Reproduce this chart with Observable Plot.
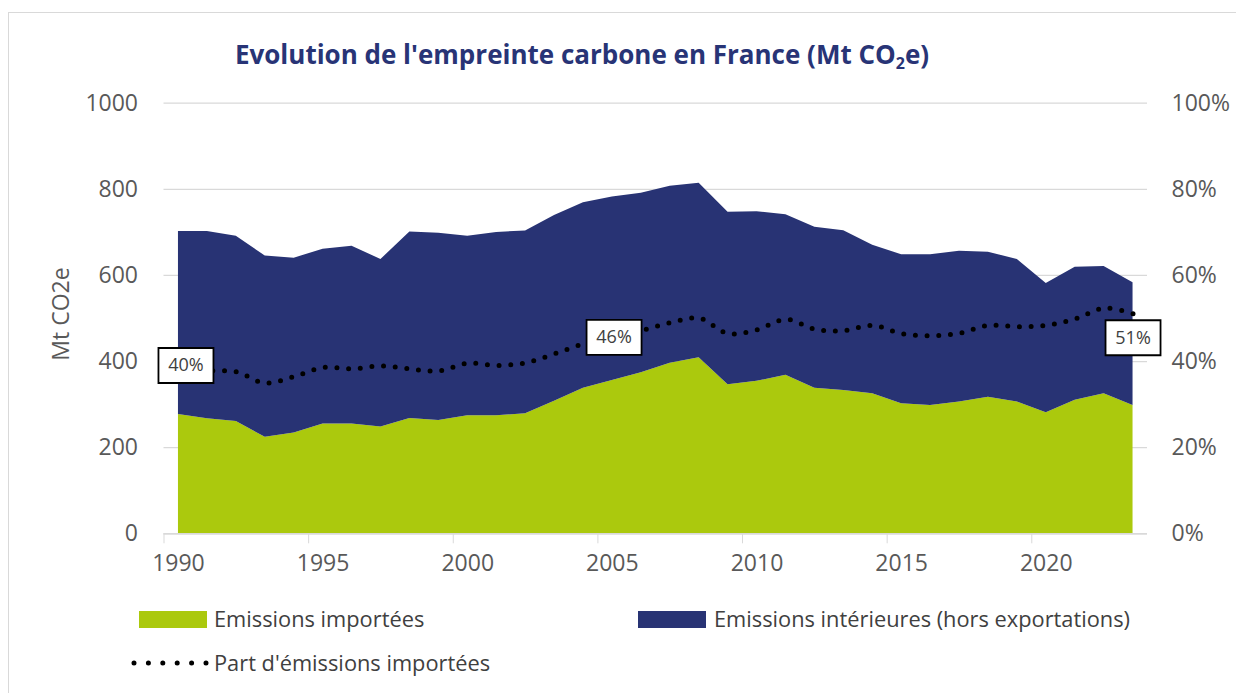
<!DOCTYPE html>
<html>
<head>
<meta charset="utf-8">
<script src="https://cdn.jsdelivr.net/npm/d3@7"></script>
<script src="https://cdn.jsdelivr.net/npm/@observablehq/plot@0.6"></script>
<style>
  html, body { margin: 0; padding: 0; background: #fff; }
  body { width: 1236px; height: 693px; position: relative; overflow: hidden; font-family: "Open Sans", sans-serif; }
  #frame { position: absolute; left: 8px; top: 12px; width: 1300px; height: 800px; border-left: 1.5px solid #d9d9d9; border-top: 1.5px solid #d9d9d9; }
  #title { position: absolute; left: 0; width: 1164px; top: 38px; text-align: center; font-weight: 700; font-size: 26px; line-height: 32px; color: #283476; white-space: nowrap; }
  #title sub { font-size: 16px; vertical-align: -5px; line-height: 0; }
  #chart { position: absolute; left: 0; top: 85px; }
  .leg { position: absolute; font-size: 21.8px; line-height: 26px; color: #404040; white-space: nowrap; }
  .sw { position: absolute; height: 17px; width: 68px; }
</style>
</head>
<body>
<div id="frame"></div>
<div id="title">Evolution de l'empreinte carbone en France (Mt CO<sub>2</sub>e)</div>
<div id="chart"></div>
<div id="legend"></div>
<script>
// ---- Data ----
const years = [1990, 1991, 1992, 1993, 1994, 1995, 1996, 1997, 1998, 1999,
               2000, 2001, 2002, 2003, 2004, 2005, 2006, 2007, 2008, 2009,
               2010, 2011, 2012, 2013, 2014, 2015, 2016, 2017, 2018, 2019,
               2020, 2021, 2022, 2023];
// Emissions importées (Mt CO2e)
const imported = [277, 267, 261, 224, 234, 255, 255, 248, 268, 263,
                  274, 274, 279, 308, 338, 356, 374, 396, 409, 346,
                  354, 368, 338, 333, 325, 302, 298, 306, 317, 306,
                  281, 310, 325, 298];
// Emissions intérieures hors exportations (Mt CO2e)
const domestic = [425, 435, 430, 421, 406, 406, 413, 389, 433, 435,
                  417, 426, 424, 431, 431, 426, 417, 411, 405, 401,
                  394, 373, 374, 371, 345, 346, 350, 350, 337, 331,
                  300, 309, 296, 285];
// Part d'émissions importées (%)
const share = [39.5, 38.0, 37.6, 35.0, 36.5, 38.6, 38.3, 39.0, 38.3, 37.8,
               39.6, 39.1, 39.7, 41.8, 44.1, 45.6, 47.2, 49.0, 50.1, 46.5,
               47.4, 49.8, 47.5, 47.2, 48.4, 46.5, 46.0, 46.6, 48.4, 48.1,
               48.4, 49.9, 52.4, 51.1];
const seriesNames = ["Emissions importées", "Emissions intérieures (hors exportations)"];
const lineName = "Part d'émissions importées";
const labelYears = [1990, 2005, 2023];
const xTickLabels = [1990, 1995, 2000, 2005, 2010, 2015, 2020];
const xTickMarks = [1989.5, 1994.5, 1999.5, 2004.5, 2009.5, 2014.5, 2019.5];
const yTicks = [0, 200, 400, 600, 800, 1000];
const yTicksPct = [0, 20, 40, 60, 80, 100];

// ---- Styles ----
const GREEN = "#abc90d";
const NAVY = "#283374";
const labelOffsets = {1990: [7.5, 1.8], 2005: [1.7, 0], 2023: [0, 24]};

// ---- Tables built from the arrays ----
const areaRows = [];
years.forEach((year, i) => {
  areaRows.push({year, series: seriesNames[0], value: imported[i]});
  areaRows.push({year, series: seriesNames[1], value: domestic[i]});
});
// the share (0-100 %) is drawn against the right axis, which maps 100 % onto the top of the 0-1000 scale
const pctToLeft = 1000 / 100;
const shareRows = years.map((year, i) => ({year, pct: share[i], y: share[i] * pctToLeft}));
const labelRows = shareRows.filter(d => labelYears.includes(d.year));

const boxSymbol = {draw(context) { context.rect(-27.5, -17.5, 55, 35); }};

const labelMarks = labelRows.flatMap(r => {
  const [dx, dy] = labelOffsets[r.year];
  return [
    Plot.dot([r], {x: "year", y: "y", dx, dy, symbol: boxSymbol, fill: "white", stroke: "black", strokeWidth: 1.8}),
    Plot.text([r], {x: "year", y: "y", dx, dy, text: d => Math.round(d.pct) + "%", fontSize: 18, fill: "#404040"})
  ];
});

const plot = Plot.plot({
  width: 1236,
  height: 490,
  marginTop: 17.7,
  marginBottom: 41.7,
  marginLeft: 163.5,
  marginRight: 89,
  style: {fontFamily: "Open Sans", fontSize: "23px", color: "#595959", background: "transparent", overflow: "visible"},
  x: {domain: [1989.5, 2023.5]},
  y: {domain: [0, 1000]},
  color: {domain: seriesNames, range: [GREEN, NAVY]},
  marks: [
    Plot.gridY(yTicks, {stroke: "#d9d9d9", strokeOpacity: 1, strokeWidth: 1.3}),
    Plot.areaY(areaRows, {x: "year", y: "value", fill: "series", order: seriesNames, curve: "linear"}),
    Plot.ruleY([0], {stroke: "#d9d9d9", strokeWidth: 1.5}),
    Plot.axisY({ticks: yTicks, tickSize: 0, tickPadding: 26, tickFormat: d => String(d), label: null}),
    Plot.axisY({anchor: "right", ticks: yTicksPct.map(p => p * pctToLeft), tickSize: 0, tickPadding: 24, tickFormat: d => (d / pctToLeft) + "%", label: null}),
    Plot.axisX({ticks: xTickMarks, tickSize: 10, tickFormat: () => "", stroke: "#d9d9d9", label: null}),
    Plot.axisX({ticks: xTickLabels, tickSize: 0, tickPadding: 21, tickFormat: d => String(d), label: null}),
    Plot.text(["Mt CO2e"], {frameAnchor: "left", textAnchor: "middle", dx: -102, dy: -4.5, rotate: -90, fill: "#595959"}),
    Plot.line(shareRows, {x: "year", y: "y", curve: "catmull-rom", stroke: "black", strokeWidth: 5, strokeDasharray: "0 11.7", strokeLinecap: "round"}),
    ...labelMarks
  ]
});
document.getElementById("chart").appendChild(plot);

// ---- Legend ----
const legend = document.getElementById("legend");
legend.innerHTML = `
  <div class="sw" style="left:139px; top:611px; background:${GREEN}"></div>
  <div class="leg" style="left:214px; top:606px">${seriesNames[0]}</div>
  <div class="sw" style="left:638px; top:611px; background:${NAVY}"></div>
  <div class="leg" style="left:714px; top:606px">${seriesNames[1]}</div>
  <svg style="position:absolute; left:128px; top:655px" width="84" height="16">
    <line x1="6" y1="8" x2="78" y2="8" stroke="black" stroke-width="5" stroke-linecap="round" stroke-dasharray="0 14.4"></line>
  </svg>
  <div class="leg" style="left:214px; top:650px">${lineName}</div>
`;
</script>
</body>
</html>
